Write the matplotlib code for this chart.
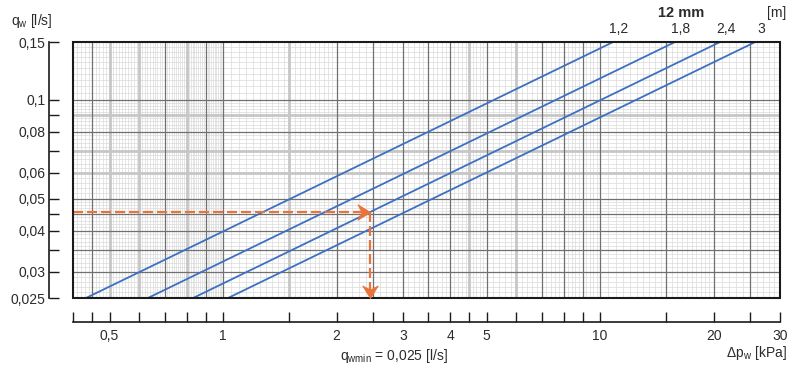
import matplotlib
matplotlib.use("Agg")
import matplotlib.pyplot as plt
import numpy as np
from matplotlib.path import Path
from matplotlib.patches import Rectangle

plt.rcParams["font.family"] = ["Liberation Sans", "DejaVu Sans"]

# pipe lengths [m] for 12 mm, with pressure drop read at q = 0.025 and q = 0.15 l/s
lengths = ["1,2", "1,8", "2,4", "3"]
dp_at_qmin = [0.433, 0.632, 0.833, 1.031]
dp_at_qmax = [10.83, 15.8, 20.8, 25.8]
q_ends = [0.025, 0.15]

# reading example
q_read = 0.0457
dp_read = 2.45

# axis ticks
x_ticks = [0.4, 0.45, 0.5, 0.6, 0.7, 0.8, 0.9, 1, 1.5, 2, 2.5, 3, 3.5, 4, 4.5,
           5, 6, 7, 8, 9, 10, 15, 20, 25, 30]
x_labels = {0.5: "0,5", 1: "1", 2: "2", 3: "3", 4: "4", 5: "5", 10: "10", 20: "20", 30: "30"}
y_ticks = [0.025, 0.03, 0.035, 0.04, 0.045, 0.05, 0.06, 0.07, 0.08, 0.09, 0.1, 0.15]
y_labels = {0.025: "0,025", 0.03: "0,03", 0.04: "0,04", 0.05: "0,05", 0.06: "0,06",
            0.08: "0,08", 0.1: "0,1", 0.15: "0,15"}

# grid of the log paper
x_dark = [0.45, 0.7, 0.9, 1, 2, 2.5, 3, 3.5, 4, 5, 7, 8, 9, 10, 15, 20, 25]
x_soft = [0.5, 0.6, 0.8, 1.5, 4.5, 6]
y_dark = [0.03, 0.035, 0.04, 0.045, 0.05, 0.08, 0.1]
y_soft = [0.06, 0.07, 0.09]
x_fine = np.concatenate([np.arange(0.41, 1.0, 0.01), np.arange(1.05, 2.0, 0.05),
                         np.arange(2.1, 5.0, 0.1), np.arange(5.2, 10.0, 0.2),
                         np.arange(10.5, 20.0, 0.5), np.arange(21, 30, 1.0)])
y_fine = np.concatenate([np.arange(0.026, 0.05, 0.001), np.arange(0.052, 0.1, 0.002),
                         np.arange(0.105, 0.15, 0.005)])

BLUE = "#3d70c0"
ORANGE = "#e8743b"
TEXT = "#2b2b2b"

fig = plt.figure(figsize=(8, 3.74), dpi=100)
ax = fig.add_axes([73 / 800, 1 - 298 / 374, 707 / 800, 256 / 374])
ax.set_xscale("log")
ax.set_yscale("log")
ax.set_xlim(0.4, 30)
ax.set_ylim(0.025, 0.15)

for x in x_fine:
    ax.axvline(x, color="#dadada", lw=0.5, zorder=1)
for y in y_fine:
    ax.axhline(y, color="#dadada", lw=0.5, zorder=1)
for x in x_soft:
    ax.axvline(x, color="#c6c6c6", lw=2.0, zorder=2)
for y in y_soft:
    ax.axhline(y, color="#c6c6c6", lw=2.0, zorder=2)
for x in x_dark:
    ax.axvline(x, color="#707070", lw=0.9, zorder=3)
for y in y_dark:
    ax.axhline(y, color="#707070", lw=0.9, zorder=3)

for lab, lo, hi in zip(lengths, dp_at_qmin, dp_at_qmax):
    ax.plot([lo, hi], q_ends, color=BLUE, lw=1.3, zorder=5, solid_capstyle="butt")
    ax.annotate(lab, (hi, q_ends[1]), xytext=(4, 4), textcoords="offset points",
                ha="center", va="bottom", fontsize=10, color=TEXT, annotation_clip=False)

# reading example: dashed arrows
ax.plot([0.4, dp_read * 0.96], [q_read, q_read], color=ORANGE, lw=1.6,
        dashes=(4.5, 1.8), zorder=6)
ax.plot([dp_read, dp_read], [q_read, 0.025 * 1.05], color=ORANGE, lw=1.6,
        dashes=(4.5, 1.8), zorder=6)
head = [(0, 0), (-1, 0.62), (-0.68, 0), (-1, -0.62), (0, 0)]
codes = [Path.MOVETO, Path.LINETO, Path.LINETO, Path.LINETO, Path.CLOSEPOLY]
head_right = Path(head, codes)
head_down = Path([(v, -u) for u, v in head], codes)
ax.plot(dp_read, q_read, marker=head_right, ms=18, color=ORANGE, mec=ORANGE, mew=0.6,
        zorder=7, clip_on=False)
ax.plot(dp_read, 0.025, marker=head_down, ms=18, color=ORANGE, mec=ORANGE, mew=0.6,
        zorder=9, clip_on=False)

# frame
ax.add_patch(Rectangle((0, 0), 1, 1, transform=ax.transAxes, fill=False,
                       lw=1.5, edgecolor="#1a1a1a", zorder=8, clip_on=False))

for side in ["top", "right"]:
    ax.spines[side].set_visible(False)
ax.spines["bottom"].set_position(("outward", 17))
ax.spines["left"].set_position(("outward", 17))
for side in ["bottom", "left"]:
    ax.spines[side].set_linewidth(1.2)
    ax.spines[side].set_color("#1a1a1a")

ax.xaxis.set_major_locator(matplotlib.ticker.FixedLocator(x_ticks))
ax.xaxis.set_minor_locator(matplotlib.ticker.NullLocator())
ax.xaxis.set_major_formatter(matplotlib.ticker.FixedFormatter([x_labels.get(t, "") for t in x_ticks]))
ax.yaxis.set_major_locator(matplotlib.ticker.FixedLocator(y_ticks))
ax.yaxis.set_minor_locator(matplotlib.ticker.NullLocator())
ax.yaxis.set_major_formatter(matplotlib.ticker.FixedFormatter([y_labels.get(t, "") for t in y_ticks]))
ax.tick_params(axis="both", direction="in", length=7, width=1.0, color="#1a1a1a",
               labelsize=10, labelcolor=TEXT)
ax.tick_params(axis="x", pad=5)
ax.tick_params(axis="y", pad=3)

fig.text(11 / 800, 1 - 21 / 374, r"q$_{\mathregular{w}}$ [l/s]", fontsize=10, color=TEXT,
         va="center", ha="left")
fig.text(681 / 800, 1 - 13 / 374, "12 mm", fontsize=10.5, fontweight="bold", color=TEXT,
         va="center", ha="center")
fig.text(786 / 800, 1 - 13 / 374, "[m]", fontsize=10, color=TEXT, va="center", ha="right")
fig.text(394 / 800, 1 - 356 / 374, r"q$_{\mathregular{wmin}}$ = 0,025 [l/s]", fontsize=10,
         color=TEXT, va="center", ha="center")
fig.text(787 / 800, 1 - 353 / 374, r"Δp$_{\mathregular{w}}$ [kPa]", fontsize=10,
         color=TEXT, va="center", ha="right")

fig.savefig("out.png", dpi=100)
